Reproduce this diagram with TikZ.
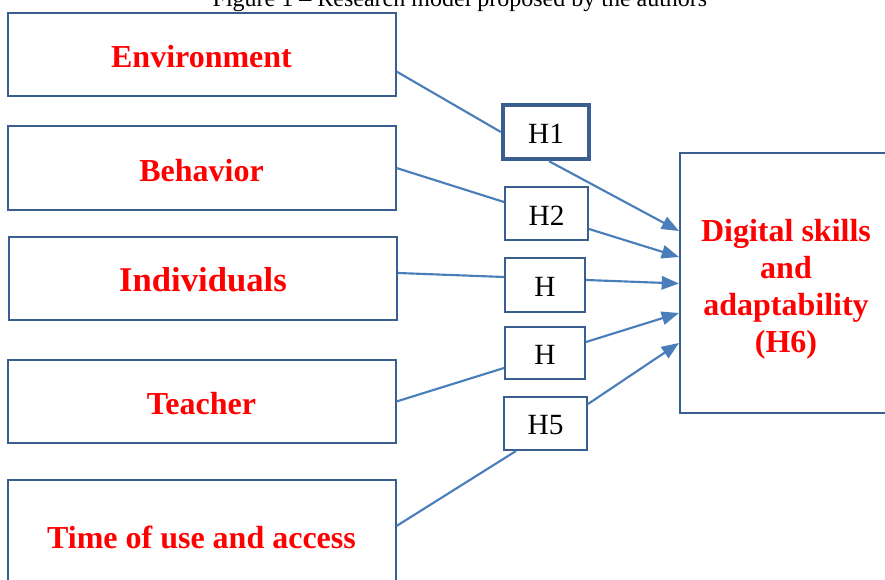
\documentclass[tikz,border=0pt]{standalone}
\usepackage{fontspec}
\setmainfont{Liberation Serif}
\usetikzlibrary{calc,arrows.meta}

\definecolor{boxblue}{HTML}{3B5E91}
\definecolor{linkblue}{HTML}{4A7EBB}
\definecolor{txtred}{HTML}{FF0000}

\tikzset{
  factor/.style={draw=boxblue,line width=1.5pt,minimum width=291pt,inner sep=0pt,
    text=txtred,font=\fontsize{24}{28}\selectfont\bfseries,text height=20pt,text depth=0pt},
  hyp/.style={draw=boxblue,line width=1.5pt,inner sep=0pt,
    font=\fontsize{22}{26}\selectfont,text height=17pt,text depth=0pt},
  target/.style={draw=boxblue,line width=1.5pt,inner sep=0pt,align=center,
    text=txtred,font=\fontsize{24}{27.75}\selectfont\bfseries},
  link/.style={draw=linkblue,line width=1.6pt},
  linkarr/.style={link,-{Triangle[length=13pt,width=10pt]}}
}

\begin{document}
\begin{tikzpicture}[x=0.75pt,y=-0.75pt]
  \clip (0,0) rectangle (885,580);
  \fill[white] (0,0) rectangle (885,580);

  % caption, cut at the top
  \node[anchor=base,font=\fontsize{18}{20}\selectfont] (cap) at (460,7)
    {Figure 1 -- Research model proposed by the authors};

  % factors
  \node[factor,minimum height=62.25pt] (env) at (201.5,54.5) {Environment};
  \node[factor,minimum height=63pt] (beh) at (201.5,168) {Behavior};
  \node[factor,minimum height=62.25pt,font=\fontsize{26}{30}\selectfont\bfseries] (ind) at (203,278.5) {Individuals};
  \node[factor,minimum height=62.25pt] (tea) at (201.5,401.5) {Teacher};
  \node[factor,minimum height=82.5pt] (tim) at (201.5,535) {Time of use and access};

  % hypotheses
  \node[hyp,line width=3.3pt,minimum width=64.5pt,minimum height=40.5pt] (h1) at (546,132) {H1};
  \node[hyp,minimum width=62.25pt,minimum height=39.75pt] (h2) at (546.5,214) {H2};
  \node[hyp,minimum width=60pt,minimum height=40.5pt] (h3) at (545,285) {H};
  \node[hyp,minimum width=60pt,minimum height=39pt] (h4) at (545,353) {H};
  \node[hyp,minimum width=62.25pt,minimum height=39.75pt] (h5) at (545.5,423.5) {H5};

  % outcome
  \node[target,minimum width=159pt,minimum height=195pt] (dig) at (786,283.5)
    {\rule{0pt}{25pt}Digital skills\\and\\adaptability\\(H6)};

  % links
  \draw[link] ($(env.east)+(0,17)$) -- (h1.west);
  \draw[linkarr] ($(h1.south)+(3,0)$) -- ($(dig.west)+(0,-52.5)$);
  \draw[link] (beh.east) -- ($(h2.west)+(0,-12)$);
  \draw[linkarr] ($(h2.east)+(0,15)$) -- ($(dig.west)+(0,-26.5)$);
  \draw[link] ($(ind.east)+(0,-5.5)$) -- ($(h3.west)+(0,-8)$);
  \draw[linkarr] ($(h3.east)+(0,-5)$) -- (dig.west);
  \draw[link] (tea.east) -- ($(h4.west)+(0,15)$);
  \draw[linkarr] ($(h4.east)+(0,-11)$) -- ($(dig.west)+(0,29.5)$);
  \draw[link] ($(tim.east)+(0,-9)$) -- ($(h5.south)+(-29.5,0)$);
  \draw[linkarr] ($(h5.east)+(0,-19.5)$) -- ($(dig.west)+(0,59.5)$);
\end{tikzpicture}
\end{document}
